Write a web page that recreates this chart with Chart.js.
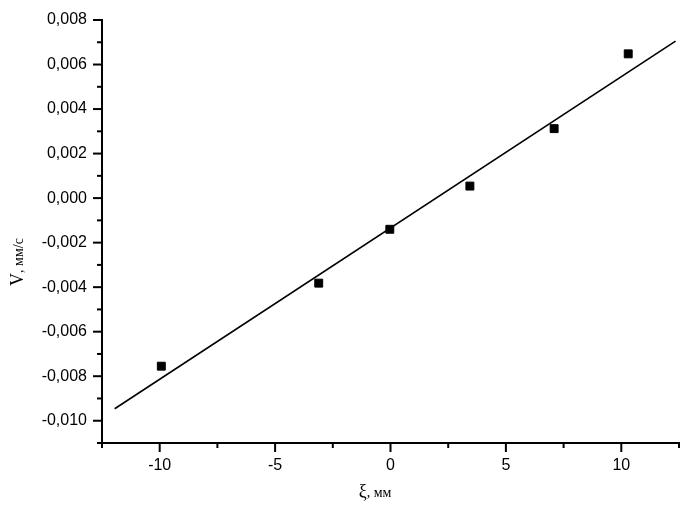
<!DOCTYPE html>
<html>
<head>
<meta charset="utf-8">
<script src="https://cdn.jsdelivr.net/npm/chart.js@4.4.1/dist/chart.umd.min.js"></script>
<style>
  html, body { margin: 0; padding: 0; background: #fff; }
  #wrap { width: 697px; height: 518px; }
</style>
</head>
<body>
<div id="wrap"><canvas id="myChart" width="697" height="518"></canvas></div>
<script>
// измеренные точки
var xi = [-9.93, -3.11, -0.03, 3.44, 7.09, 10.3];
var v = [-0.00755, -0.00382, -0.0014, 0.00054, 0.00312, 0.00648];

// линейная аппроксимация (концы прямой)
var fitX = [-11.95, 12.35];
var fitY = [-0.00946, 0.00705];

var xTitle = ['ξ', ', мм'];
var yTitle = ['V', ', мм/с'];

var pts = xi.map(function (x, i) { return { x: x, y: v[i] }; });
var fit = fitX.map(function (x, i) { return { x: x, y: fitY[i] }; });

// тики: большие с подписью, маленькие без
var tickMarks = {
    id: 'tickMarks',
    afterDraw: function (chart) {
        var ctx = chart.ctx;
        var a = chart.chartArea;
        ctx.save();
        ctx.strokeStyle = '#000';
        ctx.lineWidth = 2;
        var xs = chart.scales.x;
        xs.ticks.forEach(function (t) {
            var px = xs.getPixelForValue(t.value);
            var len = t.label ? 9 : 5;
            ctx.beginPath();
            ctx.moveTo(px, a.bottom);
            ctx.lineTo(px, a.bottom + len);
            ctx.stroke();
        });
        var ys = chart.scales.y;
        ys.ticks.forEach(function (t) {
            var py = ys.getPixelForValue(t.value);
            var len = t.label ? 9 : 5;
            ctx.beginPath();
            ctx.moveTo(a.left, py);
            ctx.lineTo(a.left - len, py);
            ctx.stroke();
        });

        // подписи осей
        ctx.fillStyle = '#000';
        ctx.textBaseline = 'alphabetic';
        var big = '18px "Liberation Serif", "Times New Roman", serif';
        var small = '14px "Liberation Serif", "Times New Roman", serif';

        ctx.font = big;
        var w1 = ctx.measureText(xTitle[0]).width;
        ctx.font = small;
        var w2 = ctx.measureText(xTitle[1]).width;
        var sx = 375 - (w1 + w2) / 2;
        ctx.font = big;
        ctx.fillText(xTitle[0], sx, 497);
        ctx.font = small;
        ctx.fillText(xTitle[1], sx + w1, 497);

        ctx.translate(23, 262);
        ctx.rotate(-Math.PI / 2);
        ctx.font = big;
        w1 = ctx.measureText(yTitle[0]).width;
        ctx.font = small;
        w2 = ctx.measureText(yTitle[1]).width;
        sx = -(w1 + w2) / 2;
        ctx.font = big;
        ctx.fillText(yTitle[0], sx, 0);
        ctx.font = small;
        ctx.fillText(yTitle[1], sx + w1, 0);
        ctx.restore();
    }
};

var tickFont = { family: '"Liberation Sans", Arial, sans-serif', size: 16 };

var ctx = document.getElementById('myChart').getContext('2d');
var myChart = new Chart(ctx, {
    type: 'scatter',
    data: {
        datasets: [{
            type: 'line',
            data: fit,
            borderColor: '#000',
            borderWidth: 1.6,
            pointRadius: 0,
            fill: false,
            tension: 0
        }, {
            data: pts,
            pointStyle: 'rect',
            pointRadius: 5.6,
            pointBackgroundColor: '#000',
            pointBorderColor: '#000',
            pointBorderWidth: 1
        }]
    },
    options: {
        responsive: false,
        animation: false,
        layout: { padding: { left: 0, top: 20, right: 18, bottom: 0 } },
        plugins: {
            legend: { display: false },
            tooltip: { enabled: false }
        },
        scales: {
            x: {
                type: 'linear',
                min: -12.5,
                max: 12.5,
                afterFit: function (s) {
                    s.height = 75;
                    s.paddingLeft = 0;
                    s.paddingRight = 0;
                },
                border: { color: '#000', width: 2 },
                grid: { drawOnChartArea: false, drawTicks: false },
                ticks: {
                    stepSize: 2.5,
                    autoSkip: false,
                    maxRotation: 0,
                    padding: 13,
                    color: '#000',
                    font: tickFont,
                    callback: function (val) {
                        return val % 5 === 0 ? String(val) : '';
                    }
                }
            },
            y: {
                type: 'linear',
                min: -0.011,
                max: 0.008,
                afterFit: function (s) {
                    s.width = 102;
                    s.paddingTop = 0;
                    s.paddingBottom = 0;
                },
                border: { color: '#000', width: 2 },
                grid: { drawOnChartArea: false, drawTicks: false },
                ticks: {
                    stepSize: 0.001,
                    autoSkip: false,
                    padding: 15,
                    color: '#000',
                    font: tickFont,
                    callback: function (val) {
                        var n = Math.round(val * 1000);
                        if (n % 2 !== 0) return '';
                        return (n / 1000).toFixed(3).replace('.', ',');
                    }
                }
            }
        }
    },
    plugins: [tickMarks]
});
</script>
</body>
</html>
